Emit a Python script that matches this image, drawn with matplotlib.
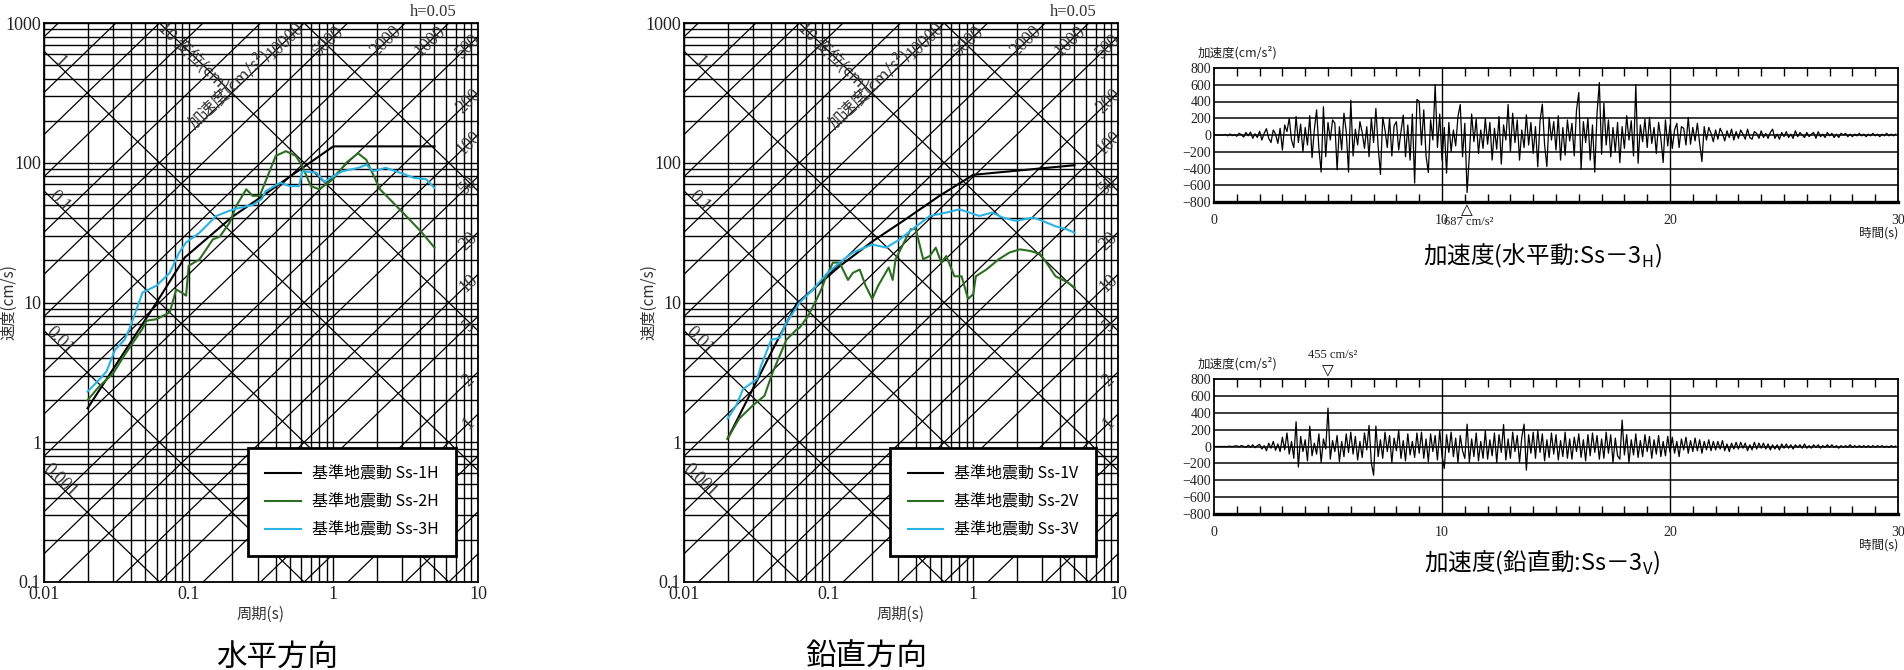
import numpy as np
import matplotlib
matplotlib.use('Agg')
import matplotlib.pyplot as plt
from matplotlib.ticker import FixedLocator, FixedFormatter, MultipleLocator, NullFormatter

plt.rcParams['font.family'] = ['Noto Sans CJK JP', 'DejaVu Sans']
SERIF = ['Liberation Serif', 'DejaVu Serif']
GRAY = '#333333'

# ---- 擬似速度応答スペクトル (h=0.05) ----
t_1h = [0.02, 0.06, 0.094, 0.2, 0.31, 0.47, 1.0, 5.0]
v_1h = [1.75, 10, 21, 41, 56, 76, 131, 131]
t_2h = [0.02, 0.024, 0.03, 0.036, 0.048, 0.051, 0.06, 0.074, 0.082, 0.089,
        0.096, 0.1, 0.119, 0.147, 0.164, 0.192, 0.213, 0.25, 0.277, 0.31,
        0.40, 0.47, 0.55, 0.61, 0.70, 0.80, 0.99, 1.23, 1.48, 1.69,
        2.1, 2.73, 3.35, 4.1, 5.0]
v_2h = [2.0, 2.5, 3.1, 4.2, 6.5, 7.4, 7.6, 8.5, 12.4, 11.8,
        11.2, 18.3, 20.4, 28.3, 29.6, 37.3, 49, 64.6, 58, 58,
        112, 121, 112, 94.6, 68, 64.6, 76, 100, 117, 105,
        64.6, 49, 39.4, 31.6, 24.7]
t_3h = [0.02, 0.024, 0.027, 0.031, 0.036, 0.039, 0.048, 0.06, 0.074, 0.086,
        0.096, 0.119, 0.155, 0.203, 0.278, 0.32, 0.34, 0.43, 0.5, 0.58,
        0.61, 0.76, 0.87, 1.0, 1.16, 1.5, 1.69, 1.88, 2.3, 2.88,
        3.6, 4.4, 5.0]
v_3h = [2.3, 2.8, 3.2, 4.6, 5.4, 6.5, 11.8, 13.2, 16.3, 22.8,
        26.9, 31.6, 41.6, 46.4, 50, 55, 62.5, 72, 68, 68,
        87, 85, 73, 80, 87, 92, 97, 87, 92, 85,
        78, 76, 66]

t_1v = [0.02, 0.041, 0.06, 0.12, 0.2, 0.34, 0.58, 1.0, 5.0]
v_1v = [1.06, 4.6, 9.8, 18.3, 27.3, 39.4, 57.7, 82, 96]
t_2v = [0.02, 0.024, 0.03, 0.036, 0.041, 0.051, 0.06, 0.063, 0.072, 0.082,
        0.089, 0.094, 0.107, 0.119, 0.136, 0.147, 0.164, 0.18, 0.2, 0.22,
        0.26, 0.277, 0.29, 0.34, 0.37, 0.40, 0.45, 0.5, 0.55, 0.6,
        0.65, 0.74, 0.83, 0.92, 1.0, 1.04, 1.23, 1.5, 1.78, 2.1,
        2.46, 2.88, 3.2, 3.7, 4.4, 5.0]
v_2v = [1.06, 1.47, 1.84, 2.15, 3.16, 5.4, 6.4, 6.6, 8.0, 10.4,
        12.4, 14.5, 19.3, 19.3, 14.5, 16.3, 17.2, 13.2, 10.6, 13.2,
        17.8, 14.5, 20.4, 28.3, 33.5, 33.5, 20.4, 21.5, 24.7, 19.3,
        21.5, 15.4, 15.4, 10.6, 11.5, 15.4, 17.2, 20.4, 22.8, 24,
        23.4, 22.3, 19.3, 15.4, 14.1, 12.8]
t_3v = [0.02, 0.023, 0.0256, 0.03, 0.032, 0.034, 0.04, 0.046, 0.051, 0.057,
        0.063, 0.078, 0.096, 0.119, 0.147, 0.2, 0.25, 0.31, 0.38, 0.5,
        0.65, 0.8, 0.94, 1.1, 1.35, 1.6, 1.97, 2.6, 3.0, 3.7,
        4.4, 5.0]
v_3v = [1.47, 1.84, 2.4, 2.7, 2.83, 3.5, 5.4, 5.6, 7.2, 8.5,
        10, 12.4, 15.9, 19.3, 22.8, 26, 24.7, 28.3, 33.5, 41.6,
        44, 46.4, 44, 41.6, 44, 40.5, 38.4, 40.5, 38.4, 35.1,
        33.5, 31.6]

labels_h = ['基準地震動 Ss-1H', '基準地震動 Ss-2H', '基準地震動 Ss-3H']
labels_v = ['基準地震動 Ss-1V', '基準地震動 Ss-2V', '基準地震動 Ss-3V']
line_colors = ['#000000', '#2d6e22', '#2ab4e6']

# ---- 加速度時刻歴 Ss-3 (0.1 s 毎に読み取り) ----
dt = 0.1
acc_h = [
    0, 0, 0, 0, 0, 6, -10, 12, -8, 4,
    -15, 20, 5, -25, 30, -10, 35, -40, 15, -30,
    45, -60, 20, 75, -40, -90, 60, 10, -100, 80,
    -180, 120, 40, 200, -60, -150, 220, -90, 130, -200,
    90, -120, 230, -270, 60, 300, -160, -443, 337, -260,
    150, -60, 180, 140, -416, 100, -180, 260, 40, -443,
    416, -250, 70, -120, 160, 30, -160, 100, -260, 200,
    -90, 317, -140, -471, 210, 60, -150, 200, -250, 110,
    160, -180, 40, 238, -260, 120, -300, 250, -574, 424,
    404, -120, 300, -250, -447, 180, -60, 602, -150, 250,
    -300, 90, -455, 150, -200, 60, -130, 220, 364, -260,
    140, -687, -240, 250, -80, 190, -220, 60, -160, 200,
    -110, 150, -300, 80, -170, 220, -348, 120, -60, 364,
    -200, 260, -90, 180, -300, 60, -150, 240, -120, 150,
    -220, 100, -380, 170, 368, -120, -376, 210, -60, 160,
    -180, 230, -300, 90, -240, 180, -70, 140, -250, 300,
    507, -412, 160, -90, 200, -300, 120, -443, 260, 626,
    -230, 380, -120, 180, -260, 90, -200, 150, -330, 100,
    -160, 230, -60, 170, -250, 602, -337, 120, -80, 190,
    -150, 210, -100, 90, -220, 150, -40, -329, 180, -130,
    120, -160, 60, 140, -150, 100, 80, -120, 210, -110,
    90, -70, 140, -100, -317, 100, -60, 90, 20, -80,
    60, -50, 80, 20, -70, 50, -30, 70, -60, 40,
    -40, 60, 10, -50, 70, -30, -50, 40, 20, -40,
    50, -30, 20, -40, 30, 70, -40, 10, -50, 30,
    -20, 40, -30, 10, -40, 50, -20, 30, 0, -30,
    30, -20, 10, 30, -40, 40, -20, 10, -30, 30,
    -10, 20, -30, 10, -30, 20, 0, 20, -20, 10,
    -20, 10, -10, 20, -10, 10, -20, 10, -10, 20,
    -10, 10, -20, 10, -10, 20, -10, 10, -10, 10,
]
acc_v = [
    0, 0, 0, 0, 0, 0, 0, 4, -3, 6,
    8, -4, 12, 2, -10, 15, -8, 20, -15, 10,
    25, -30, 10, -50, 40, -20, 60, -45, 30, -60,
    110, -40, 160, -90, 60, -140, 293, -242, 120, -60,
    80, -170, 241, -110, 40, -90, 150, -190, 90, -30,
    455, -150, 70, -60, 130, -180, 60, -120, 150, -70,
    170, -90, 120, -160, 60, -130, 160, -40, 250, -190,
    -340, 241, -120, 80, -140, 170, -60, 130, -190, 100,
    -50, 190, -140, 70, -170, 150, -100, 60, -130, 160,
    -80, 170, -140, 90, -180, 150, -60, 130, -160, 190,
    -110, -261, 140, -70, 170, -120, 100, -190, 130, -50,
    -140, 265, -190, 90, -120, 160, -170, 60, -140, 190,
    -150, 80, -110, 160, -190, 140, -70, 260, -160, 90,
    -140, 170, -60, 130, -190, 110, 265, -281, 140, -80,
    170, -140, 190, -70, 150, -170, 80, -130, 160, -90,
    140, -160, 70, -120, 170, -140, 90, -150, 110, -60,
    150, -130, 80, -170, 140, -110, 160, -70, 130, -150,
    90, -140, 170, -80, 140, -190, 100, -110, -150, 313,
    -100, 140, -190, 80, -100, 150, -130, 70, -120, 140,
    -60, 120, -140, 80, -90, 130, -120, 60, -110, 120,
    -70, 110, -80, 60, -120, 90, -40, 110, -80, 70,
    -60, 100, -50, 80, -80, 60, -40, 80, -50, 60,
    -40, 60, -30, 70, -50, 30, -60, 40, -30, 50,
    -30, 50, -20, 40, -50, 20, -40, 50, -30, 40,
    -20, 40, -30, 30, -40, 20, -30, 20, -40, 30,
    -20, 30, -20, 20, -30, 20, -10, 20, -20, 30,
    -20, 10, -20, 20, -10, 20, -20, 10, -10, 20,
    -10, 20, -10, 10, -20, 10, -10, 10, -10, 20,
    -10, 10, -10, 10, -10, 10, -10, 10, -10, 10,
    -10, 10, -5, 10, -10, 5, -10, 10, -5, 5,
]

fig = plt.figure(figsize=(19.04, 6.70), dpi=100)


def tripartite(ax, curves, labels, title, title_x):
    ax.set_xscale('log')
    ax.set_yscale('log')
    # 斜めの格子: 変位一定線 (10倍毎), 加速度一定線 (1-2-5)
    T = np.array([0.01, 10.0])
    for k in range(-4, 3):
        d = 10.0 ** k
        ax.plot(T, 2 * np.pi * d / T, color='black', lw=0.9, zorder=1,
                scalex=False, scaley=False)
    for k in range(-1, 6):
        for m in (1, 2, 5):
            a = m * 10.0 ** k
            ax.plot(T, a * T / (2 * np.pi), color='black', lw=0.9, zorder=1,
                    scalex=False, scaley=False)
    ax.set_xlim(0.01, 10)
    ax.set_ylim(0.1, 1000)

    xt = [0.01, 0.1, 1, 10]
    yt = [0.1, 1, 10, 100, 1000]
    ax.xaxis.set_major_locator(FixedLocator(xt))
    ax.xaxis.set_major_formatter(FixedFormatter(['0.01', '0.1', '1', '10']))
    ax.yaxis.set_major_locator(FixedLocator(yt))
    ax.yaxis.set_major_formatter(FixedFormatter(['0.1', '1', '10', '100', '1000']))
    ax.xaxis.set_minor_locator(FixedLocator([m * 10.0 ** k for k in range(-2, 1) for m in range(2, 10)]))
    ax.yaxis.set_minor_locator(FixedLocator([m * 10.0 ** k for k in range(-1, 3) for m in range(2, 10)]))
    ax.xaxis.set_minor_formatter(NullFormatter())
    ax.yaxis.set_minor_formatter(NullFormatter())
    ax.grid(which='both', color='black', lw=1.0, zorder=1)
    ax.tick_params(which='both', length=0)
    ax.tick_params(axis='x', pad=3)
    ax.tick_params(axis='y', pad=2)
    for lab in ax.get_xticklabels() + ax.get_yticklabels():
        lab.set_family(SERIF)
        lab.set_fontsize(13)
        lab.set_color('#222222')
    for s in ax.spines.values():
        s.set_linewidth(1.3)

    for (tx, vy), lab, c in zip(curves, labels, line_colors):
        ax.plot(tx, vy, color=c, lw=1.5, label=lab, zorder=3)

    # 目盛りラベル (変位)
    for d, s in [(1, '1'), (0.1, '0.1'), (0.01, '0.01'), (0.001, '0.001')]:
        tt = 0.0128
        ax.text(tt, 2 * np.pi * d / tt * 1.08, s, rotation=-44, ha='center', va='center',
                family=SERIF, fontsize=13, color=GRAY)
    ax.text(0.064, 960, '10 変位(cm)', rotation=-44, rotation_mode='anchor',
            ha='left', va='center', fontsize=12, color=GRAY)
    # 目盛りラベル (加速度)
    for a in (10000, 5000, 2000, 1000):
        tt = 2 * np.pi * 740 / a
        ax.text(tt, 740, str(a), rotation=44, ha='center', va='center',
                family=SERIF, fontsize=13, color=GRAY)
    for a in (500, 200, 100, 50, 20, 10, 5, 2, 1):
        tt = 8.6
        ax.text(tt, a * tt / (2 * np.pi), str(a), rotation=44, ha='center', va='center',
                family=SERIF, fontsize=13, color=GRAY)
    ax.text(0.19, 10000 * 0.19 / (2 * np.pi) * 1.12, '加速度(cm/s²)', rotation=44,
            ha='center', va='center', fontsize=12, color=GRAY)
    ax.text(0.896, 1.006, 'h=0.05', transform=ax.transAxes, ha='center', va='bottom',
            family=SERIF, fontsize=12, color=GRAY)

    ax.set_xlabel('周期(s)', fontsize=11, color=GRAY, labelpad=2)
    ax.set_ylabel('速度(cm/s)', fontsize=11, color=GRAY)
    ax.yaxis.set_label_coords(-0.062, 0.5)

    leg = ax.legend(loc='lower right', bbox_to_anchor=(0.968, 0.032), fontsize=11.5,
                    frameon=True, fancybox=False, handlelength=2.2, handletextpad=0.7,
                    borderpad=1.1, labelspacing=0.7, framealpha=1)
    leg.get_frame().set_edgecolor('black')
    leg.get_frame().set_linewidth(2)
    leg.set_zorder(5)

    ax.text(title_x, -0.134, title, transform=ax.transAxes, ha='center', va='center',
            fontsize=22)


def time_history(ax, acc, title, title_y, mark_min):
    t = np.arange(len(acc)) * dt
    acc = np.array(acc, dtype=float)
    for y in range(-600, 601, 200):
        ax.axhline(y, color='#3a3a3a', lw=1.4, zorder=1)
    for x in (10, 20):
        ax.axvline(x, color='black', lw=1.0, zorder=1)
    ax.plot(t, acc, color='black', lw=0.9, zorder=3)
    ax.set_xlim(0, 30)
    ax.set_ylim(-800, 800)
    ax.set_yticks(range(-800, 801, 200))
    ax.set_xticks([0, 10, 20, 30])
    ax.xaxis.set_minor_locator(MultipleLocator(1))
    ax.tick_params(axis='x', which='minor', direction='in', top=True, bottom=True,
                   length=6, width=1.0)
    ax.tick_params(axis='x', which='major', length=0, pad=9)
    ax.tick_params(axis='y', length=0, pad=2)
    for lab in ax.get_xticklabels() + ax.get_yticklabels():
        lab.set_family(SERIF)
        lab.set_fontsize(10)
        lab.set_color('#222222')
    for s in ax.spines.values():
        s.set_linewidth(1.3)
    ax.spines['bottom'].set_linewidth(2.4)

    ax.text(0.034, 1.06, '加速度(cm/s²)', transform=ax.transAxes, ha='center',
            va='bottom', fontsize=9, color='#222222')
    ax.text(1.0, -0.23, '時間(s)', transform=ax.transAxes, ha='right', va='center',
            fontsize=9, color='#222222')

    trans = ax.get_xaxis_transform()
    if mark_min:
        i = int(np.argmin(acc))
        ax.text(t[i], -0.005, '△', transform=trans, ha='center', va='top',
                fontsize=11, family=['DejaVu Sans'])
        ax.text(t[i] - 1.0, -0.15, f'{abs(acc[i]):.0f} cm/s²', transform=trans,
                ha='left', va='center', family=SERIF, fontsize=9, color='#222222')
    else:
        i = int(np.argmax(acc))
        ax.text(t[i], 1.005, '▽', transform=trans, ha='center', va='bottom',
                fontsize=11, family=['DejaVu Sans'])
        ax.text(t[i] + 0.2, 1.13, f'{abs(acc[i]):.0f} cm/s²', transform=trans,
                ha='center', va='bottom', family=SERIF, fontsize=9, color='#222222')
    ax.text(0.48, title_y, title, transform=ax.transAxes, ha='center', va='center',
            fontsize=17)


ax1 = fig.add_axes([44 / 1904, 88 / 670, 434 / 1904, 559 / 670])
ax2 = fig.add_axes([684 / 1904, 88 / 670, 434 / 1904, 559 / 670])
ax3 = fig.add_axes([1214 / 1904, 468 / 670, 684 / 1904, 134 / 670])
ax4 = fig.add_axes([1214 / 1904, 156 / 670, 684 / 1904, 135 / 670])

tripartite(ax1, [(t_1h, v_1h), (t_2h, v_2h), (t_3h, v_3h)], labels_h, '水平方向', 0.537)
tripartite(ax2, [(t_1v, v_1v), (t_2v, v_2v), (t_3v, v_3v)], labels_v, '鉛直方向', 0.42)
time_history(ax3, acc_h, '加速度(水平動:Ss－3$_\\mathregular{H}$)', -0.40, True)
time_history(ax4, acc_v, '加速度(鉛直動:Ss－3$_\\mathregular{V}$)', -0.36, False)

fig.savefig('out.png', dpi=100)
